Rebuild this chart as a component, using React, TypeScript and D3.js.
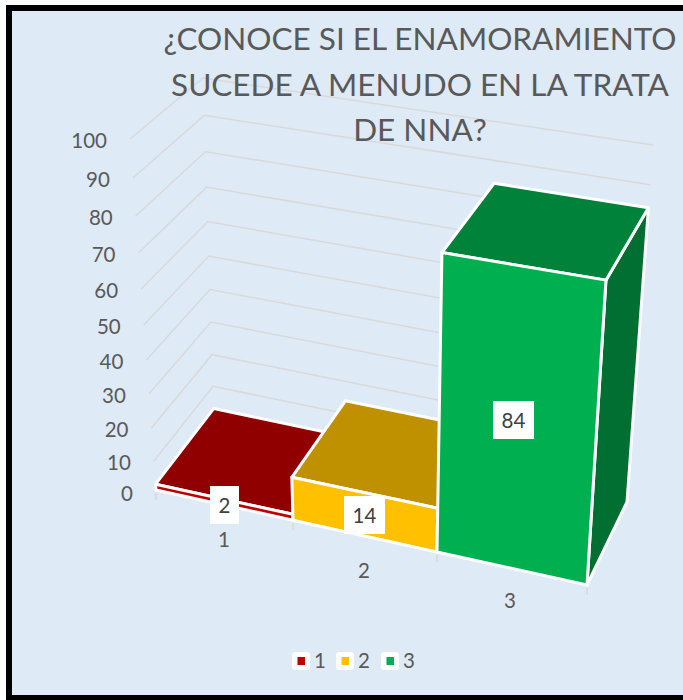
import React from "react";
import * as d3 from "d3";

const categories = ["1", "2", "3"];
const values = [2, 14, 84];
const frontColors = ["#C00000", "#FFC000", "#00B050"];
const topColors = ["#900000", "#BF9000", "#00823B"];
const sideColors = ["#700000", "#8F6F00", "#006F31"];
const valueTicks = [0, 10, 20, 30, 40, 50, 60, 70, 80, 90, 100];
const valueTickPixels = [490, 461, 428, 394, 360, 325, 289, 253, 216, 178, 139];
const titleLines = ["¿CONOCE SI EL ENAMORAMIENTO", "SUCEDE A MENUDO EN LA TRATA", "DE NNA?"];
const categoryEdges = [0, 1, 2, 3];
const categoryEdgeFractions = [0, 0.318, 0.652, 1];

const FONT = "Lato, Carlito, sans-serif";
const W = 683, H = 700;

// Perspective box corners: [u][depth][value end]
const box = {
  fb0: [156, 490], fb1: [587, 585], bb0: [214, 414], bb1: [627, 502],
  ft0: [130, 139], ft1: [610, 215], bt0: [203, 78], bt1: [653, 145],
};

const uScale = d3.scaleLinear().domain(categoryEdges).range(categoryEdgeFractions);
const vScale = d3.scaleLinear().domain(valueTicks).range(valueTickPixels.map(p => (490 - p) / 351));

const mix = (a: number[], b: number[], t: number) => [a[0] + (b[0] - a[0]) * t, a[1] + (b[1] - a[1]) * t];

function project(u: number, depth: number, v: number) {
  const fu = uScale(u), tv = vScale(v);
  const bottom = mix(mix(box.fb0, box.fb1, fu), mix(box.bb0, box.bb1, fu), depth);
  const top = mix(mix(box.ft0, box.ft1, fu), mix(box.bt0, box.bt1, fu), depth);
  return mix(bottom, top, tv);
}

const poly = d3.line<number[]>().x(p => p[0]).y(p => p[1]);
const closed = (pts: number[][]) => poly(pts) + "Z";

const dataLabels = [
  { i: 0, cx: 224.5, cy: 505, w: 29 },
  { i: 1, cx: 364.5, cy: 515, w: 41 },
  { i: 2, cx: 513.5, cy: 420, w: 41 },
];
const catLabelPos = [[224, 547], [364, 578], [510, 608]];
const legendX = [292, 336, 381];

export default function App() {
  return (
    <svg width={W} height={H} viewBox={`0 0 ${W} ${H}`} style={{ position: "absolute", left: 0, top: 0, background: "#fff" }} fontFamily={FONT}>
      <rect x={9} y={8} width={W + 10} height={H - 10} fill="#DEEAF6" stroke="#000" strokeWidth={6} />

      {valueTicks.slice(1).map(v => {
        const a = project(0, 0, v), b = project(0, 1, v), c = project(3, 1, v);
        return <path key={v} d={poly([a, b, c]) ?? ""} fill="none" stroke="#D9D9D9" strokeWidth={1.5} />;
      })}

      {titleLines.map((t, i) => (
        <text key={t} x={420} y={50 + i * 45.5} textAnchor="middle" fontSize={31.5} fill="#595959">{t}</text>
      ))}

      {valueTicks.map(v => {
        const p = project(0, 0, v);
        return (
          <text key={v} x={p[0] - 23} y={p[1] + (v === 0 ? 11 : 9)} textAnchor="end" fontSize={20.5} fill="#595959">{v}</text>
        );
      })}

      {categoryEdges.map(e => {
        const p = project(e, 0, 0);
        return <line key={e} x1={p[0]} x2={p[0]} y1={p[1] + 3} y2={p[1] + 10} stroke="#D9D9D9" strokeWidth={1.5} />;
      })}

      {categories.map((c, i) => {
        const v = values[i];
        const front = [project(i, 0, 0), project(i + 1, 0, 0), project(i + 1, 0, v), project(i, 0, v)];
        const top = [project(i, 0, v), project(i + 1, 0, v), project(i + 1, 1, v), project(i, 1, v)];
        const side = [project(i + 1, 0, 0), project(i + 1, 1, 0), project(i + 1, 1, v), project(i + 1, 0, v)];
        return (
          <g key={c} stroke="#fff" strokeWidth={3} strokeLinejoin="round">
            <path d={closed(side)} fill={sideColors[i]} />
            <path d={closed(top)} fill={topColors[i]} />
            <path d={closed(front)} fill={frontColors[i]} />
          </g>
        );
      })}

      {dataLabels.map(d => (
        <g key={d.i}>
          <rect x={d.cx - d.w / 2} y={d.cy - 19} width={d.w} height={38} fill="#fff" />
          <text x={d.cx} y={d.cy + 7.5} textAnchor="middle" fontSize={20.5} fill="#404040">{values[d.i]}</text>
        </g>
      ))}

      {categories.map((c, i) => (
        <text key={c} x={catLabelPos[i][0]} y={catLabelPos[i][1]} textAnchor="middle" fontSize={20.5} fill="#595959">{c}</text>
      ))}

      {categories.map((c, i) => (
        <g key={c}>
          <rect x={legendX[i]} y={652} width={18} height={18} rx={3} fill="#fff" />
          <rect x={legendX[i] + 5.5} y={657} width={7.5} height={8} fill={frontColors[i]} />
          <text x={legendX[i] + 22} y={668} fontSize={20.5} fill="#595959">{c}</text>
        </g>
      ))}
    </svg>
  );
}
